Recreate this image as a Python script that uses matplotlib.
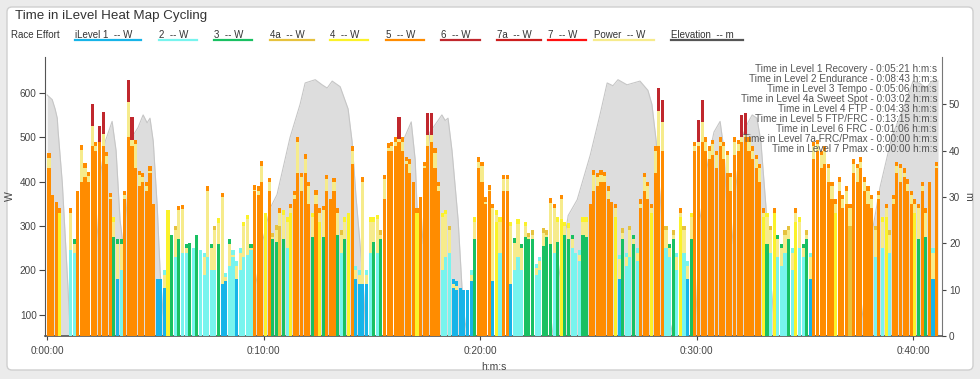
import matplotlib
matplotlib.use("Agg")
import matplotlib.pyplot as plt
from matplotlib.patches import FancyBboxPatch
from matplotlib.lines import Line2D
from matplotlib.transforms import IdentityTransform
from matplotlib.ticker import FuncFormatter, FixedLocator
import numpy as np

plt.rcParams['font.family'] = ['Liberation Sans', 'DejaVu Sans']

# power in 10 s bins: mean of the bin (zone colour) and the peak (Power series)
BIN_S = 10
power_avg = [
    430, 360, 350, 330, 0, 0,
    245, 240, 370, 400, 410, 400,
    480, 470, 490, 480, 440, 360,
    275, 180, 200, 360, 500, 480,
    430, 390, 400, 380, 420, 340,
    175, 175, 160, 330, 275, 230,
    270, 240, 240, 255, 245, 270,
    235, 190, 230, 200, 200, 260,
    170, 175, 210, 230, 180, 200,
    230, 235, 245, 380, 370, 400,
    320, 380, 270, 265, 300, 270,
    250, 330, 360, 420, 380, 420,
    350, 275, 350, 310, 275, 380,
    350, 380, 280, 240, 270, 320,
    440, 180, 170, 170, 170, 240,
    265, 240, 270, 360, 470, 470,
    480, 490, 470, 440, 420, 390,
    330, 360, 430, 480, 490, 430,
    380, 200, 230, 240, 160, 155,
    150, 150, 150, 175, 270, 430,
    400, 350, 380, 175, 310, 240,
    380, 380, 170, 200, 230, 200,
    275, 270, 270, 190, 200, 255,
    275, 260, 240, 265, 315, 280,
    270, 250, 230, 220, 280, 275,
    340, 380, 390, 400, 400, 360,
    350, 320, 180, 270, 210,
    230, 260, 220, 340, 380, 360,
    330, 420, 480, 470, 250, 230,
    270, 200, 320, 240, 180, 270,
    470, 480, 490, 470, 450, 460,
    430, 480, 450, 420, 380, 460,
    470, 490, 500, 470, 450, 430,
    400, 320, 260, 240, 330, 230,
    210, 240, 270, 200, 310, 250,
    230, 270, 180, 450, 470, 430,
    440, 400, 360, 330, 380, 340,
    350, 300, 420, 400, 430, 380,
    350, 340, 230, 360, 250, 320,
    240, 350, 420, 400, 410, 380,
    350, 330, 270, 380, 275, 390,
    180, 430,
]
power_peak = [
    464, 370, 355, 340, 0, 0,
    340, 270, 380, 482, 441, 422,
    576, 490, 525, 557, 467, 375,
    320, 270, 270, 380, 629, 545,
    495, 425, 420, 400, 435, 350,
    180, 180, 200, 336, 280, 300,
    345, 348, 260, 262, 250, 280,
    245, 240, 390, 260, 300, 317,
    375, 195, 270, 245, 220, 250,
    310, 325, 260, 392, 390, 446,
    330, 409, 285, 302, 340, 335,
    320, 350, 380, 500, 420, 462,
    400, 330, 381, 340, 345, 415,
    360, 409, 340, 290, 320, 330,
    480, 210, 200, 410, 200, 320,
    320, 325, 290, 415, 486, 490,
    500, 546, 500, 456, 450, 400,
    340, 365, 445, 555, 555, 475,
    400, 330, 336, 300, 180, 175,
    160, 155, 155, 200, 320, 455,
    445, 365, 392, 350, 335, 320,
    415, 415, 310, 272, 315, 260,
    310, 285, 290, 215, 230, 295,
    290, 362, 350, 320, 370, 310,
    306, 280, 240, 245, 320, 320,
    350, 426, 420, 426, 422, 390,
    355, 350, 235, 295, 240,
    300, 280, 250, 360, 420, 400,
    350, 480, 610, 585, 300, 260,
    290, 240, 340, 300, 220, 330,
    490, 540, 585, 500, 480, 495,
    470, 500, 490, 470, 420, 500,
    495, 550, 555, 500, 480, 460,
    440, 340, 330, 300, 340, 280,
    260, 290, 300, 250, 340, 320,
    260, 290, 240, 490, 495, 470,
    480, 440, 400, 360, 410, 370,
    390, 350, 450, 440, 455, 410,
    390, 370, 300, 380, 320, 350,
    290, 370, 445, 440, 430, 405,
    380, 360, 350, 400, 340, 400,
    250, 445,
]

elev_time_s = [0, 14, 22, 28, 30, 42, 58, 64,
               125, 139, 150, 161, 180, 191, 202, 213, 224, 236, 252, 266, 277, 285, 294, 305, 313, 321, 330,
               557, 576, 596, 618, 637, 673, 701, 715, 743, 762, 776, 790, 812, 834, 845, 856, 867, 876, 884,
               962, 975, 986, 1009, 1020, 1028, 1039, 1050, 1061, 1094, 1103, 1111, 1122, 1139, 1150, 1158, 1167,
               1399, 1422, 1444, 1469, 1505, 1532, 1552, 1568, 1582, 1607, 1643, 1665, 1676, 1688, 1699, 1713, 1726, 1735,
               1796, 1809, 1832, 1848, 1865, 1876, 1887, 1898, 1912, 1926, 1942, 1954, 1967, 1978, 1992, 2003, 2014, 2023,
               2253, 2281, 2308, 2341, 2377, 2400, 2419, 2436, 2452, 2469]
elev_m = [52, 51, 49, 47, 44.5, 33, 10, 0,
          0, 22, 36, 42, 46.3, 40, 25, 18, 33, 43, 45, 47.7, 46, 47, 42, 28, 14, 5, 0,
          0, 10, 20, 27.6, 30.5, 42.8, 50, 54.6, 55.3, 54.2, 53.5, 55, 53.8, 49, 42, 30, 20, 11, 0,
          0, 28, 42, 46.2, 38, 22, 20, 35, 44, 47.7, 46.5, 47, 40, 25, 10, 3, 0,
          0, 15, 26, 29.4, 39, 47.7, 54.6, 54, 55.3, 54.2, 55, 53, 50, 42, 30, 15, 3, 0,
          0, 25, 38, 44, 46.3, 40, 22, 20, 35, 43, 46, 47.7, 47, 42, 28, 14, 4, 0,
          0, 20, 32, 43, 50, 55, 54.5, 53.5, 55, 55]

zone_labels = ["iLevel 1  -- W", "2  -- W", "3  -- W", "4a  -- W", "4  -- W",
               "5  -- W", "6  -- W", "7a  -- W", "7  -- W"]
zone_upper_w = [190, 255, 285, 305, 340, 510, 650, 800, 10000]
zone_colors = ["#17b4e8", "#78f4ee", "#19c062", "#e6c23e", "#fbf22a",
               "#ff8c00", "#c0272d", "#cc1e1e", "#ff1010"]
POWER_COLOR = "#f6eb8c"
ELEV_COLOR = "#555555"

summary_levels = ["Level 1 Recovery", "Level 2 Endurance", "Level 3 Tempo",
                  "Level 4a Sweet Spot", "Level 4 FTP", "Level 5 FTP/FRC",
                  "Level 6 FRC", "Level 7a FRC/Pmax", "Level 7 Pmax"]
summary_times = ["0:05:21", "0:08:43", "0:05:06", "0:03:02", "0:04:33",
                 "0:13:15", "0:01:06", "0:00:00", "0:00:00"]


def zone_of(w):
    for k, top in enumerate(zone_upper_w):
        if w < top:
            return k
    return len(zone_upper_w) - 1


W, H = 980, 379
fig = plt.figure(figsize=(W / 100, H / 100), dpi=100)
fig.patch.set_facecolor("#ebebeb")
panel = FancyBboxPatch((7, 9), 966, 363, boxstyle="round,pad=0,rounding_size=5",
                       transform=IdentityTransform(), facecolor="white",
                       edgecolor="#cfcfcf", linewidth=1, zorder=-5)
fig.patches.append(panel)

ax = fig.add_axes([45 / W, 43 / H, 897 / W, 279 / H])
ax2 = ax.twinx()
ax.set_zorder(2)
ax2.set_zorder(1)
ax.patch.set_visible(False)
ax2.patch.set_visible(False)

# elevation area (right axis)
ax2.fill_between(elev_time_s, elev_m, 0, color="#dddddd", linewidth=0, zorder=1)
ax2.plot(elev_time_s, elev_m, color="#c6c6c6", linewidth=0.8, zorder=2)
ax2.set_ylim(0, 60.2)

# power bars
t = np.arange(len(power_avg)) * BIN_S + BIN_S / 2
bw = 8.6
ax.bar(t, power_peak, width=bw, color=POWER_COLOR, linewidth=0, zorder=2)
ax.bar(t, power_avg, width=bw, color=[zone_colors[zone_of(v)] for v in power_avg],
       linewidth=0, zorder=3)
for ti, a, p in zip(t, power_avg, power_peak):
    z = zone_of(p)
    tip = min(50 if z >= 6 else 10, p - a)
    if tip > 0:
        ax.bar(ti, tip, bottom=p - tip, width=bw, color=zone_colors[z],
               linewidth=0, zorder=4)

ax.set_xlim(-6, 2480)
ax.set_ylim(52, 681)

# axes styling
for s in ["top", "right"]:
    ax.spines[s].set_visible(False)
for s in ["top", "left", "bottom"]:
    ax2.spines[s].set_visible(False)
ax.spines["left"].set_color("#555555")
ax.spines["bottom"].set_color("#555555")
ax.spines["bottom"].set_linewidth(1.2)
ax2.spines["right"].set_color("#777777")

ax.yaxis.set_major_locator(FixedLocator([100, 200, 300, 400, 500, 600]))
ax2.yaxis.set_major_locator(FixedLocator([0, 10, 20, 30, 40, 50]))
ax.xaxis.set_major_locator(FixedLocator([0, 600, 1200, 1800, 2400]))
ax.xaxis.set_major_formatter(FuncFormatter(
    lambda v, p: "%d:%02d:%02d" % (v // 3600, (v % 3600) // 60, v % 60)))
ax.tick_params(axis="y", labelsize=7.2, colors="#444444", length=4, width=0.8, pad=2)
ax.tick_params(axis="x", labelsize=7.2, colors="#444444", length=3, width=0.8, pad=4)
ax2.tick_params(axis="y", labelsize=7.2, colors="#444444", length=3, width=0.8, pad=2)

ax.set_ylabel("W", fontsize=7.5, color="#444444")
ax.yaxis.set_label_coords(-0.0334, 0.5)
ax2.set_ylabel("m", fontsize=7.5, color="#444444", rotation=270, va="center")
ax2.yaxis.set_label_coords(1.029, 0.5)
ax.set_xlabel("h:m:s", fontsize=7.5, color="#444444")
ax.xaxis.set_label_coords(0.5, -0.093)

# title
fig.text(15 / W, 1 - 16 / H, "Time in iLevel Heat Map Cycling", fontsize=9.6,
         color="#333333", va="center", ha="left")

# legend row
leg_y = 1 - 35.5 / H
fig.text(11 / W, leg_y, "Race Effort", fontsize=7, color="#333333", va="center")
leg_labels = zone_labels + ["Power  -- W", "Elevation  -- m"]
leg_colors = zone_colors + [POWER_COLOR, ELEV_COLOR]
leg_x = [75, 159, 214, 270, 330, 386, 441, 497, 548, 594, 671]
renderer = fig.canvas.get_renderer()
for lx, lab, col in zip(leg_x, leg_labels, leg_colors):
    txt = fig.text(lx / W, leg_y, lab, fontsize=7, color="#333333", va="center")
    wpx = txt.get_window_extent(renderer=renderer).width
    fig.add_artist(Line2D([lx / W, (lx + wpx + 9) / W], [1 - 40.2 / H, 1 - 40.2 / H],
                          transform=fig.transFigure, color=col, linewidth=1.6))

# time in level summary
for k, (lvl, tm) in enumerate(zip(summary_levels, summary_times)):
    fig.text(937 / W, 1 - (69 + 10 * k) / H, "Time in %s - %s h:m:s" % (lvl, tm),
             fontsize=7.2, color="#555555", ha="right", va="center", zorder=10)

fig.savefig("out.png", dpi=100, facecolor=fig.get_facecolor())
